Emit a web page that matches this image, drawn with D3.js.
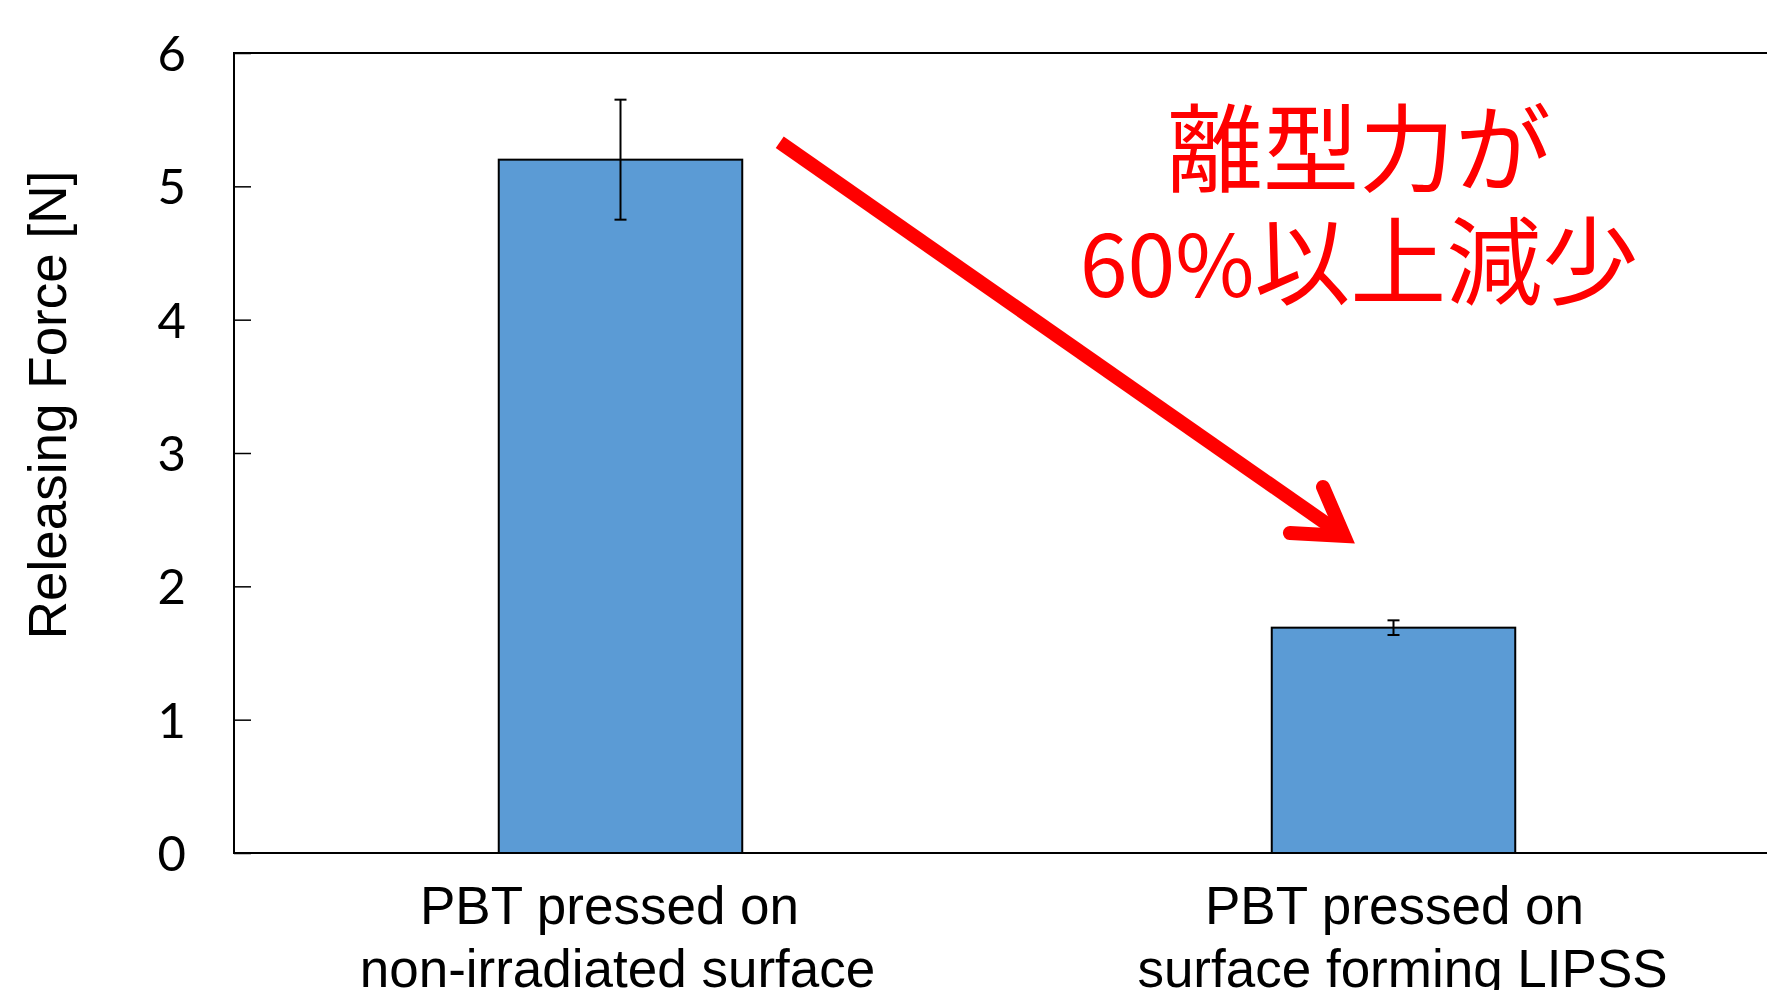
<!DOCTYPE html>
<html>
<head>
<meta charset="utf-8">
<script src="https://cdn.jsdelivr.net/npm/d3@7"></script>
<style>
  html, body { margin: 0; padding: 0; background: #ffffff; }
  svg { display: block; overflow: hidden; }
</style>
</head>
<body>
<svg id="chart" width="1767" height="990"></svg>
<script>
// Releasing force of PBT moulded against two surfaces (mean ± error)
const categoryLines = [
  ["PBT pressed on", "non-irradiated surface"],
  ["PBT pressed on", "surface forming LIPSS"]
];
const forceMean = [5.2, 1.69];
const forceErr = [0.45, 0.055];
const yTickValues = [0, 1, 2, 3, 4, 5, 6];
const yTitle = "Releasing Force [N]";
const calloutLine1 = "離型力が";
const calloutLine2 = ["60%", "以上減少"];

// Layout
const W = 1767, H = 990;
const plot = { left: 234, top: 53, width: 1546, height: 800 };
// small horizontal nudges of each category label line (px)
const labelNudge = [[-11, -3], [1, 9]];

const svg = d3.select("#chart");

const x = d3.scaleBand()
  .domain(d3.range(categoryLines.length))
  .range([plot.left, plot.left + plot.width])
  .paddingInner(0.685)
  .paddingOuter(0.3425);

const y = d3.scaleLinear()
  .domain([0, 6])
  .range([plot.top + plot.height, plot.top]);

// Linear helper across the plot width for placing the callout
const xFrac = d3.scaleLinear().domain([0, 1]).range([plot.left, plot.left + plot.width]);

// Frame
svg.append("rect")
  .attr("x", plot.left)
  .attr("y", plot.top)
  .attr("width", plot.width)
  .attr("height", plot.height)
  .attr("fill", "none")
  .attr("stroke", "#000")
  .attr("stroke-width", 2);

// Bars
svg.append("g")
  .selectAll("rect")
  .data(forceMean)
  .join("rect")
  .attr("x", (d, i) => x(i))
  .attr("y", d => y(d))
  .attr("width", x.bandwidth())
  .attr("height", d => y(0) - y(d))
  .attr("fill", "#5B9BD5")
  .attr("stroke", "#000")
  .attr("stroke-width", 2);

// Error bars
const capHalf = 6;
const eb = svg.append("g").attr("stroke", "#000").attr("stroke-width", 2);
forceMean.forEach((m, i) => {
  const cx = x(i) + x.bandwidth() / 2;
  const hi = y(m + forceErr[i]), lo = y(m - forceErr[i]);
  eb.append("line").attr("x1", cx).attr("x2", cx).attr("y1", hi).attr("y2", lo);
  eb.append("line").attr("x1", cx - capHalf).attr("x2", cx + capHalf).attr("y1", hi).attr("y2", hi);
  eb.append("line").attr("x1", cx - capHalf).attr("x2", cx + capHalf).attr("y1", lo).attr("y2", lo);
});

// Y axis: inward ticks, labels on the left
const yAxis = d3.axisLeft(y)
  .tickValues(yTickValues)
  .tickFormat(d3.format("d"))
  .tickSizeInner(-17)
  .tickSizeOuter(0)
  .tickPadding(48);

const gy = svg.append("g")
  .attr("transform", `translate(${plot.left},0)`)
  .call(yAxis);
gy.select(".domain").remove();
gy.selectAll(".tick line").attr("stroke", "#000").attr("stroke-width", 1.5);
gy.selectAll(".tick text")
  .attr("fill", "#000")
  .attr("dy", "0.36em")
  .style("font-family", "Lato, 'Open Sans', sans-serif")
  .style("font-size", "49px");

// X axis: two-line category labels, no ticks
const xAxis = d3.axisBottom(x).tickSize(0).tickFormat(() => "");
const gx = svg.append("g")
  .attr("transform", `translate(0,${plot.top + plot.height})`)
  .call(xAxis);
gx.select(".domain").remove();
gx.selectAll(".tick text").remove();
gx.selectAll(".tick")
  .append("text")
  .attr("text-anchor", "middle")
  .attr("fill", "#000")
  .style("font-family", "'Liberation Sans', Arial, sans-serif")
  .style("font-size", "53px")
  .selectAll("tspan")
  .data(i => categoryLines[i].map((t, j) => ({ t, dx: labelNudge[i][j] })))
  .join("tspan")
  .attr("x", d => d.dx)
  .attr("y", (d, j) => 71 + j * 63)
  .text(d => d.t);

// Y axis title
svg.append("text")
  .attr("transform", `translate(66,405) rotate(-90)`)
  .attr("text-anchor", "middle")
  .attr("fill", "#000")
  .style("font-family", "'Liberation Sans', Arial, sans-serif")
  .style("font-size", "53px")
  .text(yTitle);

// Callout arrow (anchored in plot-fraction / force units)
const arrowShaft = [[0.353, 5.33], [0.718, 2.378]];
const arrowHead = [[0.7044, 2.745], [0.718, 2.378], [0.683, 2.40]];
const toPx = p => [xFrac(p[0]), y(p[1])];

svg.append("path")
  .attr("d", d3.line()(arrowShaft.map(toPx)))
  .attr("fill", "none")
  .attr("stroke", "#FF0000")
  .attr("stroke-width", 14)
  .attr("stroke-linecap", "butt");

svg.append("path")
  .attr("d", d3.line()(arrowHead.map(toPx)))
  .attr("fill", "none")
  .attr("stroke", "#FF0000")
  .attr("stroke-width", 14)
  .attr("stroke-linecap", "round")
  .attr("stroke-linejoin", "miter")
  .attr("stroke-miterlimit", 6);

// Callout text
const calloutX = xFrac(0.7277);
const calloutBase = [5.0175, 4.17];
const callout = svg.append("g")
  .attr("fill", "#FF0000")
  .attr("text-anchor", "middle")
  .style("font-family", "'Noto Sans CJK JP', sans-serif")
  .style("font-size", "96px");

callout.append("text")
  .attr("x", calloutX)
  .attr("y", y(calloutBase[0]))
  .text(calloutLine1);

const line2 = callout.append("text")
  .attr("x", calloutX)
  .attr("y", y(calloutBase[1]));
line2.append("tspan").style("font-size", "86px").text(calloutLine2[0]);
line2.append("tspan").text(calloutLine2[1]);
</script>
</body>
</html>
